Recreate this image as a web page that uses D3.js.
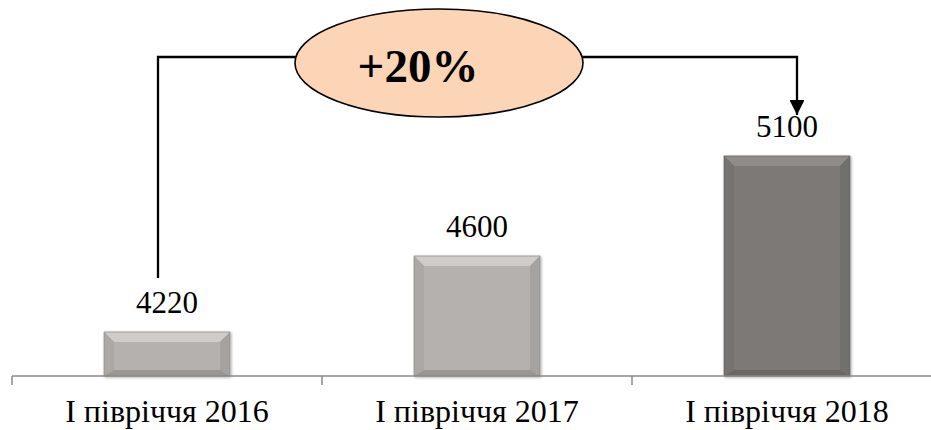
<!DOCTYPE html>
<html>
<head>
<meta charset="utf-8">
<script src="https://cdn.jsdelivr.net/npm/d3@7"></script>
<style>
  body { margin: 0; background: #fff; }
  svg { display: block; }
  text { font-family: 'Liberation Serif', 'Times New Roman', serif; }
</style>
</head>
<body>
<svg width="931" height="430"></svg>
<script>
const categories = ['І півріччя 2016', 'І півріччя 2017', 'І півріччя 2018']
const values = [4220, 4600, 5100]
const barColors = ['#b4b1af', '#b4b1af', '#7c7977']
const growthLabel = '+20%'

const svg = d3.select('svg')
const baseY = 376

const x = d3.scaleBand()
  .domain(categories)
  .range([12, 942])
  .paddingInner(0.594)
  .paddingOuter(0.297)

const y = d3.scaleLinear()
  .domain([4000, 5500])
  .range([baseY, 76])

const defs = svg.append('defs')
const f = defs.append('filter').attr('id', 'shadow').attr('x', '-10%').attr('y', '-10%').attr('width', '130%').attr('height', '130%')
f.append('feGaussianBlur').attr('in', 'SourceAlpha').attr('stdDeviation', 1.5)
f.append('feOffset').attr('dx', 1).attr('dy', 1).attr('result', 'b')
f.append('feComponentTransfer').append('feFuncA').attr('type', 'linear').attr('slope', 0.35)
const fm = f.append('feMerge')
fm.append('feMergeNode')
fm.append('feMergeNode').attr('in', 'SourceGraphic')

// bars with a bevel look
const bev = 10
const bars = svg.append('g').selectAll('g')
  .data(categories.map((c, i) => ({ c, v: values[i], col: barColors[i] })))
  .join('g')
  .attr('filter', 'url(#shadow)')

bars.each(function (d) {
  const g = d3.select(this)
  const x0 = x(d.c)
  const x1 = x0 + x.bandwidth()
  const y0 = y(d.v)
  const y1 = y(4000)
  const base = d3.color(d.col)
  const b = Math.min(bev, (y1 - y0) / 2.5)
  g.append('rect')
    .attr('x', x0).attr('y', y0)
    .attr('width', x1 - x0).attr('height', y1 - y0)
    .attr('fill', base)
  // top
  g.append('polygon')
    .attr('points', [[x0, y0], [x1, y0], [x1 - b, y0 + b], [x0 + b, y0 + b]].join(' '))
    .attr('fill', base.brighter(0.4))
  // left
  g.append('polygon')
    .attr('points', [[x0, y0], [x0 + b, y0 + b], [x0 + b, y1 - b * 0.6], [x0, y1]].join(' '))
    .attr('fill', base.darker(0.15))
  // right
  g.append('polygon')
    .attr('points', [[x1, y0], [x1 - b, y0 + b], [x1 - b, y1 - b * 0.6], [x1, y1]].join(' '))
    .attr('fill', base.darker(0.25))
  // bottom
  g.append('polygon')
    .attr('points', [[x0, y1], [x1, y1], [x1 - b, y1 - b * 0.6], [x0 + b, y1 - b * 0.6]].join(' '))
    .attr('fill', base.darker(0.45))
  g.append('rect')
    .attr('x', x0).attr('y', y0)
    .attr('width', x1 - x0).attr('height', y1 - y0)
    .attr('fill', 'none')
    .attr('stroke', base.darker(0.6))
    .attr('stroke-width', 0.8)
})

// value labels
svg.append('g').selectAll('text')
  .data(values)
  .join('text')
  .attr('x', (d, i) => x(categories[i]) + x.bandwidth() / 2)
  .attr('y', d => y(d) - 19)
  .attr('text-anchor', 'middle')
  .attr('font-size', 31)
  .attr('fill', '#000')
  .text(d => d)

// axis
const axis = svg.append('g').attr('stroke', '#8a8a8a').attr('stroke-width', 1.5)
axis.append('line')
  .attr('x1', x.range()[0]).attr('x2', x.range()[1])
  .attr('y1', baseY).attr('y2', baseY)
const bounds = [x.range()[0]].concat(categories.map(c => x(c) - x.step() * x.paddingInner() / 2).slice(1))
axis.selectAll('.tick')
  .data(bounds)
  .join('line')
  .attr('x1', d => d).attr('x2', d => d)
  .attr('y1', baseY).attr('y2', baseY + 9)

svg.append('g').selectAll('text')
  .data(categories)
  .join('text')
  .attr('x', d => x(d) + x.bandwidth() / 2)
  .attr('y', 422)
  .attr('text-anchor', 'middle')
  .attr('font-size', 32)
  .attr('fill', '#000')
  .text(d => d)

// growth annotation
const lx = x(categories[0]) + x.bandwidth() / 2 - 9
const rx = x(categories[2]) + x.bandwidth() / 2 + 10
const topY = 57
const ex = 439
const ey = 63
const erx = 144
const ery = 54

defs.append('marker')
  .attr('id', 'arrow')
  .attr('viewBox', '0 0 10 10')
  .attr('refX', 10).attr('refY', 5)
  .attr('markerWidth', 7).attr('markerHeight', 6.5)
  .attr('markerUnits', 'strokeWidth')
  .attr('orient', 'auto')
  .append('path')
  .attr('d', 'M0,0L10,5L0,10Z')
  .attr('fill', '#000')

svg.append('path')
  .attr('d', `M${lx},${y(values[0]) - 54}V${topY}H${ex}`)
  .attr('fill', 'none')
  .attr('stroke', '#000')
  .attr('stroke-width', 2.3)

svg.append('path')
  .attr('d', `M${ex},${topY}H${rx}V${y(values[2]) - 41}`)
  .attr('fill', 'none')
  .attr('stroke', '#000')
  .attr('stroke-width', 2.3)
  .attr('marker-end', 'url(#arrow)')

svg.append('ellipse')
  .attr('cx', ex).attr('cy', ey)
  .attr('rx', erx).attr('ry', ery)
  .attr('fill', '#fbd5b5')
  .attr('stroke', '#000')
  .attr('stroke-width', 1.6)

svg.append('text')
  .attr('x', 418).attr('y', 82)
  .attr('text-anchor', 'middle')
  .attr('font-size', 47)
  .attr('font-weight', 'bold')
  .attr('fill', '#000')
  .text(growthLabel)
</script>
</body>
</html>
